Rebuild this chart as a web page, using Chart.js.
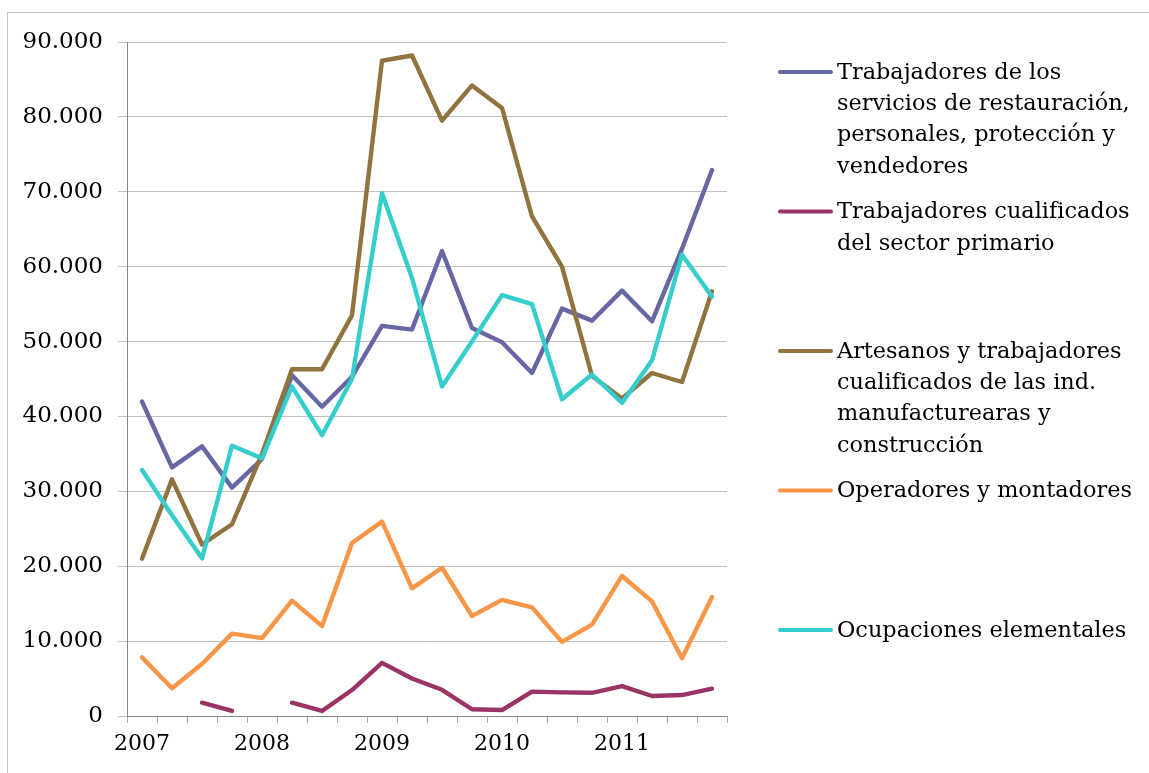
<!DOCTYPE html>
<html lang="es">
<head>
<meta charset="utf-8">
<title>Ocupaciones 2007-2011</title>
<script src="https://cdn.jsdelivr.net/npm/chart.js@4/dist/chart.umd.min.js"></script>
<style>
    html, body { margin: 0; padding: 0; background: #fff; }
    #lienzo { display: block; }
</style>
</head>
<body>
<canvas id="lienzo" width="1149" height="773"></canvas>
<script>
// trimestres 2007T1 .. 2011T4
const trimestres = [
    '2007T1', '2007T2', '2007T3', '2007T4',
    '2008T1', '2008T2', '2008T3', '2008T4',
    '2009T1', '2009T2', '2009T3', '2009T4',
    '2010T1', '2010T2', '2010T3', '2010T4',
    '2011T1', '2011T2', '2011T3', '2011T4'
];

const serviciosRestauracion = [42000, 33200, 36000, 30500, 34300, 45500, 41300, 45300, 52100, 51600,
    62100, 51800, 49900, 45800, 54400, 52800, 56800, 52700, 62400, 72900];
const sectorPrimario = [null, null, 1780, 670, null, 1780, 670, 3470, 7100, 5000,
    3500, 900, 800, 3250, 3160, 3100, 4000, 2670, 2800, 3650];
const artesanos = [21000, 31600, 22900, 25600, 35000, 46300, 46300, 53500, 87500, 88200,
    79500, 84200, 81200, 66700, 60000, 45400, 42400, 45800, 44600, 56700];
const operadores = [7830, 3700, 6940, 11000, 10400, 15400, 12000, 23100, 25950, 17050,
    19800, 13350, 15500, 14500, 9900, 12200, 18700, 15300, 7700, 15900];
const elementales = [32850, 26800, 21050, 36100, 34400, 44000, 37500, 45000, 69800, 58500,
    44000, 50000, 56200, 55000, 42300, 45600, 41800, 47500, 61600, 56000];

const nombresSeries = [
    ['Trabajadores de los', 'servicios de restauración,', 'personales, protección y', 'vendedores'],
    ['Trabajadores cualificados', 'del sector primario'],
    ['Artesanos y trabajadores', 'cualificados de las ind.', 'manufacturearas y', 'construcción'],
    ['Operadores y montadores'],
    ['Ocupaciones elementales']
];

const ticksY = [0, 10000, 20000, 30000, 40000, 50000, 60000, 70000, 80000, 90000];

const KOLORY = ['#6767a3', '#9b3466', '#917340', '#f79646', '#36cdcd'];
const FUENTE = '"DejaVu Serif", serif';

function formatoMiles(v) {
    return String(v).replace(/\B(?=(\d{3})+(?!\d))/g, '.');
}

const marco = {
    id: 'marco',
    beforeDraw(chart) {
        const ctx = chart.ctx;
        ctx.save();
        ctx.strokeStyle = '#c4c4c4';
        ctx.lineWidth = 1;
        ctx.strokeRect(7.5, 12.5, 1300, 900);
        ctx.restore();
    }
};

const leyenda = {
    id: 'leyenda',
    afterDraw(chart) {
        const ctx = chart.ctx;
        const y0 = 72, krok = 139.5, linia = 31.3;
        ctx.save();
        ctx.font = '22.4px ' + FUENTE;
        ctx.textBaseline = 'middle';
        ctx.textAlign = 'left';
        nombresSeries.forEach((lineas, i) => {
            const y = y0 + i * krok;
            ctx.strokeStyle = KOLORY[i];
            ctx.lineWidth = 4;
            ctx.lineCap = 'round';
            ctx.beginPath();
            ctx.moveTo(780, y);
            ctx.lineTo(831, y);
            ctx.stroke();
            ctx.fillStyle = '#000';
            lineas.forEach((t, j) => ctx.fillText(t, 837, y + j * linia + 1));
        });
        ctx.restore();
    }
};

const series = [serviciosRestauracion, sectorPrimario, artesanos, operadores, elementales];

new Chart(document.getElementById('lienzo'), {
    type: 'line',
    data: {
        labels: trimestres,
        datasets: series.map((dane, i) => ({
            label: nombresSeries[i].join(' '),
            data: dane,
            borderColor: KOLORY[i],
            backgroundColor: KOLORY[i],
            borderWidth: 4.4,
            borderCapStyle: 'round',
            borderJoinStyle: 'round',
            pointRadius: 0,
            tension: 0,
            spanGaps: false,
            order: series.length - i
        }))
    },
    options: {
        responsive: false,
        animation: false,
        layout: { padding: { left: 0, top: 42, right: 422, bottom: 0 } },
        plugins: {
            legend: { display: false },
            tooltip: { enabled: false }
        },
        scales: {
            x: {
                offset: true,
                afterFit(s) { s.height = 57; },
                grid: {
                    offset: true,
                    drawOnChartArea: false,
                    tickLength: 7,
                    color: '#a6a6a6'
                },
                border: { color: '#868686', width: 1 },
                ticks: {
                    autoSkip: false,
                    maxRotation: 0,
                    padding: 8,
                    color: '#000',
                    font: { family: FUENTE, size: 22 },
                    callback: (v, i) => (i % 4 === 0 ? trimestres[i].slice(0, 4) : '')
                }
            },
            y: {
                min: 0,
                max: 90000,
                afterFit(s) { s.width = 127; },
                afterBuildTicks(s) { s.ticks = ticksY.map(v => ({ value: v })); },
                grid: { color: '#c0c0c0', tickLength: 9 },
                border: { color: '#868686', width: 1 },
                ticks: {
                    padding: 15,
                    color: '#000',
                    font: { family: FUENTE, size: 23 },
                    callback: v => formatoMiles(v)
                }
            }
        }
    },
    plugins: [marco, leyenda]
});
</script>
</body>
</html>
